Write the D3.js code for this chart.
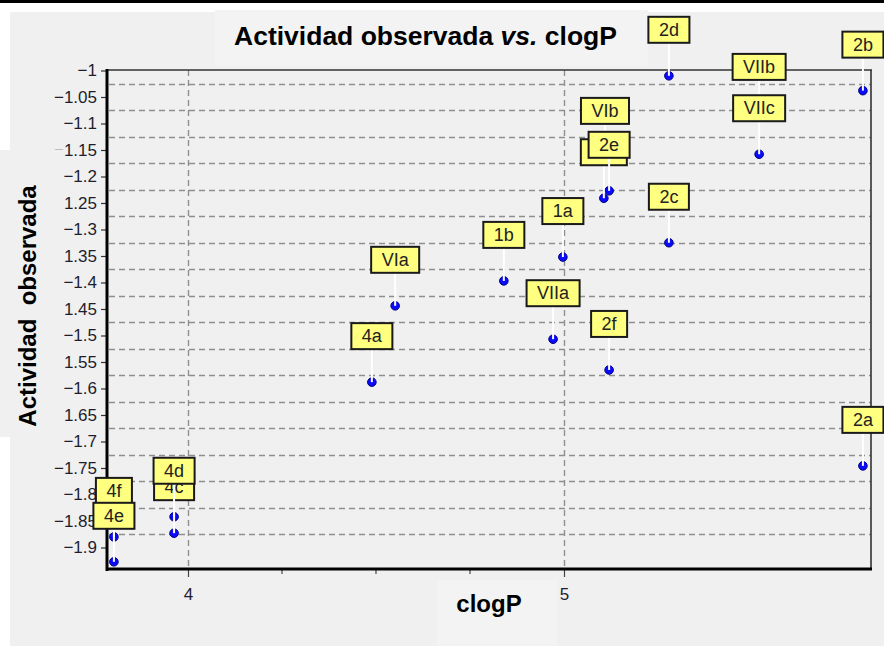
<!DOCTYPE html>
<html>
<head>
<meta charset="utf-8">
<script src="https://cdn.jsdelivr.net/npm/d3@7"></script>
<style>
  html, body { margin: 0; padding: 0; background: #ffffff; }
  svg { display: block; }
  text { font-family: "Liberation Sans", Arial, sans-serif; }
</style>
</head>
<body>
<svg id="chart" width="884" height="646"></svg>
<script>
// ---------- data ----------
const labels  = ["4a", "VIa", "1b", "1a", "VIIa", "2f", "2c", "2d", "VIb", "", "2e", "VIIb", "VIIc", "2b", "2a", "4c", "4d", "4f", "4e"];
const clogP   = [4.489, 4.551, 4.840, 4.997, 4.971, 5.120, 5.279, 5.279, 5.109, 5.106, 5.120, 5.519, 5.519, 5.795, 5.795, 3.963, 3.963, 3.803, 3.803];
const activity = [-1.588, -1.444, -1.397, -1.352, -1.507, -1.565, -1.325, -1.010, -1.163, -1.241, -1.227, -1.080, -1.158, -1.038, -1.746, -1.873, -1.842, -1.880, -1.927];
const yTickValues = [-1, -1.05, -1.1, -1.15, -1.2, -1.25, -1.3, -1.35, -1.4, -1.45, -1.5, -1.55, -1.6, -1.65, -1.7, -1.75, -1.8, -1.85, -1.9];
const yGridValues = [-1.025, -1.075, -1.125, -1.175, -1.225, -1.275, -1.325, -1.375, -1.425, -1.475, -1.525, -1.575, -1.625, -1.675, -1.725, -1.775, -1.825, -1.875];
const xTickValues = [4, 5];
const xMinorTicks = [4.25, 4.5, 4.75];
const xDomain = [3.7846, 5.8165];
const yDomain = [-1.0, -1.9387];
const titleMain = "Actividad observada ";
const titleItalic = "vs.";
const titleEnd = " clogP";
const xTitle = "clogP";
const yTitle = "Actividad  observada";

// ---------- layout ----------
const svg = d3.select("#chart");
const L = 107, R = 871, T = 70, B = 569;

const x = d3.scaleLinear().domain(xDomain).range([L, R]);
const y = d3.scaleLinear().domain(yDomain).range([70.5, 568]);

// background pieces
svg.append("rect").attr("x", 0).attr("y", 0).attr("width", 884).attr("height", 646).attr("fill", "#ffffff");
svg.append("rect").attr("x", 10).attr("y", 12).attr("width", 874).attr("height", 634).attr("fill", "#f0f0f0");
svg.append("rect").attr("x", 0).attr("y", 0).attr("width", 884).attr("height", 3).attr("fill", "#000000");
svg.append("rect").attr("x", 215).attr("y", 10).attr("width", 433).attr("height", 55).attr("fill", "#f3f3f3");
svg.append("rect").attr("x", 437).attr("y", 580).attr("width", 120).attr("height", 66).attr("fill", "#f3f3f3");

// grid
const grid = svg.append("g").attr("stroke", "#8f8f8f").attr("stroke-width", 1.4).attr("stroke-dasharray", "6,4");
grid.selectAll("line.h").data(yGridValues).join("line")
  .attr("x1", L + 2).attr("x2", R).attr("y1", d => Math.round(y(d)) + 0.5).attr("y2", d => Math.round(y(d)) + 0.5);
grid.selectAll("line.v").data(xTickValues).join("line")
  .attr("x1", d => Math.round(x(d)) + 0.5).attr("x2", d => Math.round(x(d)) + 0.5).attr("y1", T).attr("y2", B);

// frame
svg.append("line").attr("x1", L).attr("x2", R + 1).attr("y1", T).attr("y2", T).attr("stroke", "#333").attr("stroke-width", 1.6);
svg.append("line").attr("x1", R).attr("x2", R).attr("y1", T).attr("y2", B).attr("stroke", "#333").attr("stroke-width", 1.6);

// y axis
const yAxis = d3.axisLeft(y).tickValues(yTickValues).tickFormat(d3.format(".2~f")).tickSize(5).tickSizeOuter(0).tickPadding(4);
const gy = svg.append("g").attr("transform", `translate(${L - 1},0)`).call(yAxis);
gy.select(".domain").remove();
gy.selectAll(".tick line").attr("stroke", "#333").attr("stroke-width", 1.2);
gy.selectAll(".tick text").attr("font-size", 17).attr("fill", "#1e1e2e").attr("font-family", "Liberation Sans, Arial, sans-serif");

// x axis
const xAxis = d3.axisBottom(x).tickValues(xTickValues).tickFormat(d3.format("d")).tickSize(7).tickSizeOuter(0).tickPadding(11);
const gx = svg.append("g").attr("transform", `translate(0,${B + 1})`).call(xAxis);
gx.select(".domain").remove();
gx.selectAll(".tick line").attr("stroke", "#444").attr("stroke-width", 1.2);
gx.selectAll(".tick text").attr("font-size", 17).attr("fill", "#1e1e2e").attr("font-family", "Liberation Sans, Arial, sans-serif");
svg.append("g").selectAll("line").data(xMinorTicks).join("line")
  .attr("x1", d => x(d)).attr("x2", d => x(d)).attr("y1", B + 1).attr("y2", B + 5)
  .attr("stroke", "#444").attr("stroke-width", 1.2);

// thick axes lines
svg.append("line").attr("x1", L).attr("x2", L).attr("y1", T - 1).attr("y2", B + 2).attr("stroke", "#000").attr("stroke-width", 3);
svg.append("line").attr("x1", L - 1).attr("x2", R + 1).attr("y1", B).attr("y2", B).attr("stroke", "#000").attr("stroke-width", 3.2);

// y title box covers part of labels
svg.append("rect").attr("x", 0).attr("y", 150).attr("width", 64).attr("height", 287).attr("fill", "#f0f0f0");
svg.append("text").attr("transform", "translate(36,306) rotate(-90)")
  .attr("text-anchor", "middle").attr("font-size", 24).attr("font-weight", "bold").attr("fill", "#000")
  .style("white-space", "pre").text(yTitle);

// title
const tt = svg.append("text").attr("x", 425.5).attr("y", 45).attr("text-anchor", "middle")
  .attr("font-size", 26.5).attr("font-weight", "bold").attr("fill", "#000");
tt.append("tspan").text(titleMain);
tt.append("tspan").attr("font-style", "italic").text(titleItalic);
tt.append("tspan").text(titleEnd);

// x title
svg.append("text").attr("x", 489).attr("y", 612).attr("text-anchor", "middle")
  .attr("font-size", 24).attr("font-weight", "bold").attr("fill", "#000").text(xTitle);

// points
const data = labels.map((l, i) => ({ label: l, cx: x(clogP[i]), cy: y(activity[i]) }));
svg.append("g").selectAll("circle").data(data).join("circle")
  .attr("cx", d => d.cx).attr("cy", d => d.cy).attr("r", 4.3)
  .attr("fill", "#0a0aff").attr("stroke", "#000080").attr("stroke-width", 1);

// labels
const lg = svg.append("g");
data.forEach(d => {
  const g = lg.append("g");
  g.append("line").attr("x1", d.cx).attr("x2", d.cx).attr("y1", d.cy - 33).attr("y2", d.cy)
    .attr("stroke", "#ffffff").attr("stroke-width", 2);
  const rect = g.append("rect");
  const t = g.append("text").attr("x", d.cx).attr("y", d.cy - 40).attr("text-anchor", "middle")
    .attr("font-size", 18).attr("fill", "#222").text(d.label);
  const w = d.label ? t.node().getComputedTextLength() + 21 : 46;
  rect.attr("x", d.cx - w / 2).attr("y", d.cy - 59).attr("width", w).attr("height", 26)
    .attr("fill", "#ffff80").attr("stroke", "#1a1a1a").attr("stroke-width", 2);
});
</script>
</body>
</html>
